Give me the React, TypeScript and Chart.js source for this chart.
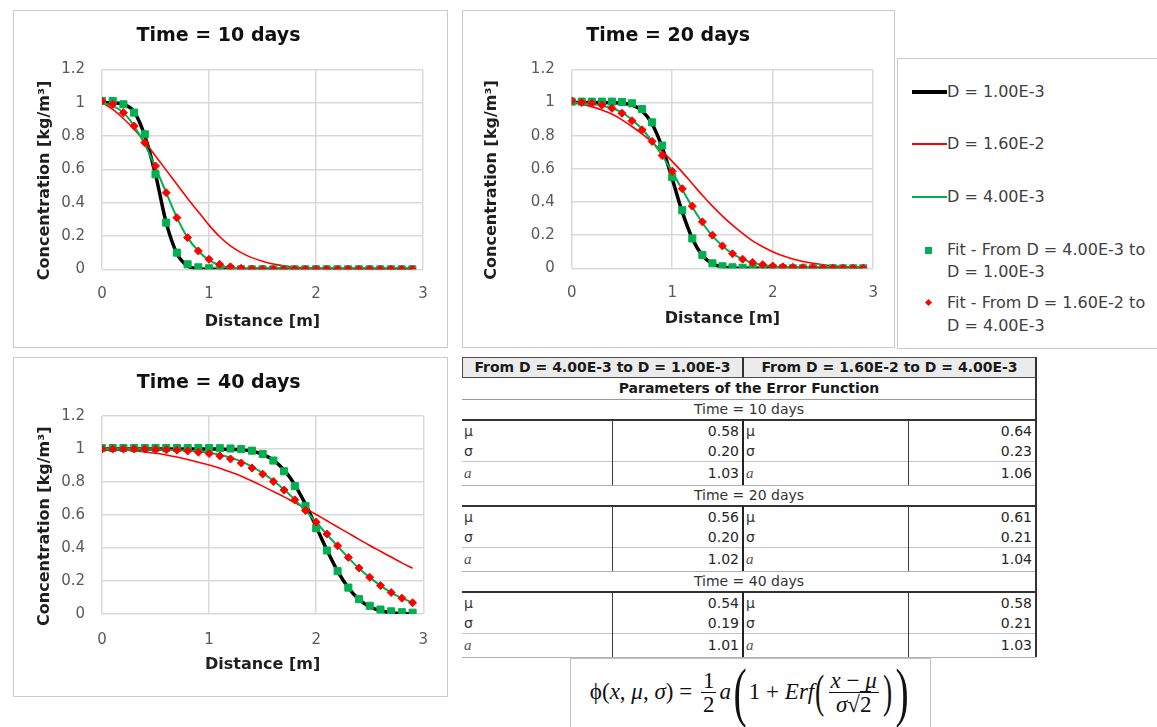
import React, { useEffect, useRef } from 'react';
import { Chart, registerables } from 'chart.js';

Chart.register(...registerables);

const FONT = '"DejaVu Sans", Verdana, sans-serif';
const SERIF = '"Liberation Serif", "DejaVu Serif", serif';

// ---------- data ----------
const X_DIST = [0, 0.1, 0.2, 0.3, 0.4, 0.5, 0.6, 0.7, 0.8, 0.9, 1.0, 1.1, 1.2, 1.3, 1.4, 1.5, 1.6, 1.7, 1.8, 1.9, 2.0, 2.1, 2.2, 2.3, 2.4, 2.5, 2.6, 2.7, 2.8, 2.9];
const X_TICK_LABELS = ['0', '1', '2', '3'];
const Y_TICK_LABELS = ['0', '0.2', '0.4', '0.6', '0.8', '1', '1.2'];

const SERIES_NAMES = [
  'D = 1.00E-3',
  'D = 1.60E-2',
  'D = 4.00E-3',
  'Fit - From D = 4.00E-3 to D = 1.00E-3',
  'Fit - From D = 1.60E-2 to D = 4.00E-3',
];
const CHART_TITLES = ['Time = 10 days', 'Time = 20 days', 'Time = 40 days'];

// Time = 10 days
const D1E3_T10 = [1.0, 1.0, 0.99, 0.945, 0.8, 0.57, 0.28, 0.095, 0.02, 0.003, 0, 0, 0, 0, 0, 0, 0, 0, 0, 0, 0, 0, 0, 0, 0, 0, 0, 0, 0, 0];
const D16E3_T10 = [1.0, 0.96, 0.905, 0.84, 0.765, 0.68, 0.595, 0.51, 0.425, 0.345, 0.265, 0.195, 0.14, 0.1, 0.07, 0.048, 0.032, 0.021, 0.013, 0.008, 0.005, 0.003, 0.002, 0.001, 0, 0, 0, 0, 0, 0];
const D4E3_T10 = [1.0, 0.98, 0.94, 0.86, 0.75, 0.61, 0.46, 0.31, 0.19, 0.11, 0.055, 0.025, 0.01, 0.004, 0.001, 0, 0, 0, 0, 0, 0, 0, 0, 0, 0, 0, 0, 0, 0, 0];
const FIT_A_T10 = [1.01, 1.01, 0.99, 0.94, 0.81, 0.57, 0.28, 0.1, 0.03, 0.012, 0.006, 0.003, 0.001, 0, 0, 0, 0, 0, 0, 0, 0, 0, 0, 0, 0, 0, 0, 0, 0, 0];
const FIT_B_T10 = [1.01, 0.99, 0.94, 0.86, 0.76, 0.62, 0.46, 0.31, 0.19, 0.11, 0.06, 0.03, 0.015, 0.006, 0.002, 0.001, 0, 0, 0, 0, 0, 0, 0, 0, 0, 0, 0, 0, 0, 0];

// Time = 20 days
const D1E3_T20 = [1.0, 1.0, 1.0, 1.0, 0.999, 0.996, 0.984, 0.95, 0.87, 0.73, 0.54, 0.34, 0.18, 0.078, 0.027, 0.008, 0.002, 0, 0, 0, 0, 0, 0, 0, 0, 0, 0, 0, 0, 0];
const D16E3_T20 = [1.0, 0.99, 0.975, 0.955, 0.93, 0.895, 0.855, 0.81, 0.76, 0.705, 0.645, 0.58, 0.51, 0.44, 0.375, 0.315, 0.26, 0.21, 0.165, 0.13, 0.1, 0.075, 0.056, 0.041, 0.03, 0.021, 0.015, 0.01, 0.007, 0.005];
const D4E3_T20 = [1.0, 0.997, 0.99, 0.98, 0.965, 0.94, 0.895, 0.84, 0.765, 0.68, 0.58, 0.475, 0.37, 0.275, 0.195, 0.135, 0.088, 0.055, 0.034, 0.02, 0.011, 0.006, 0.003, 0.002, 0.001, 0, 0, 0, 0, 0];
const FIT_A_T20 = [1.005, 1.005, 1.005, 1.005, 1.005, 1.003, 0.995, 0.96, 0.88, 0.74, 0.55, 0.35, 0.18, 0.08, 0.03, 0.012, 0.006, 0.003, 0.001, 0, 0, 0, 0, 0, 0, 0, 0, 0, 0, 0];
const FIT_B_T20 = [1.01, 1.0, 0.995, 0.985, 0.965, 0.935, 0.89, 0.835, 0.765, 0.68, 0.585, 0.48, 0.375, 0.28, 0.2, 0.135, 0.088, 0.055, 0.035, 0.022, 0.014, 0.009, 0.006, 0.004, 0.003, 0.002, 0.001, 0, 0, 0];

// Time = 40 days
const D1E3_T40 = [1, 1, 1, 1, 1, 1, 1, 1, 1, 1, 1, 0.999, 0.998, 0.995, 0.987, 0.968, 0.933, 0.873, 0.783, 0.665, 0.528, 0.388, 0.26, 0.159, 0.088, 0.044, 0.02, 0.008, 0.003, 0.001];
const D16E3_T40 = [1.0, 0.998, 0.995, 0.989, 0.982, 0.974, 0.964, 0.951, 0.936, 0.92, 0.903, 0.883, 0.86, 0.835, 0.806, 0.775, 0.742, 0.71, 0.675, 0.64, 0.603, 0.565, 0.527, 0.49, 0.452, 0.415, 0.38, 0.345, 0.31, 0.277];
const D4E3_T40 = [1.0, 1.0, 1.0, 1.0, 0.999, 0.998, 0.996, 0.993, 0.989, 0.984, 0.977, 0.965, 0.947, 0.925, 0.893, 0.854, 0.808, 0.754, 0.693, 0.627, 0.555, 0.482, 0.411, 0.341, 0.276, 0.222, 0.172, 0.13, 0.096, 0.069];
const FIT_A_T40 = [1.006, 1.006, 1.006, 1.006, 1.006, 1.006, 1.006, 1.006, 1.006, 1.006, 1.006, 1.005, 1.003, 1.0, 0.99, 0.97, 0.93, 0.865, 0.775, 0.655, 0.52, 0.385, 0.26, 0.16, 0.09, 0.05, 0.027, 0.016, 0.011, 0.008];
const FIT_B_T40 = [1.0, 1.0, 1.0, 1.0, 1.0, 0.998, 0.996, 0.993, 0.988, 0.981, 0.972, 0.958, 0.94, 0.915, 0.885, 0.848, 0.803, 0.751, 0.692, 0.627, 0.557, 0.485, 0.413, 0.343, 0.279, 0.222, 0.172, 0.13, 0.096, 0.068];

// Table of fitted parameters
const TABLE_HEADERS = ['From D = 4.00E-3 to D = 1.00E-3', 'From D = 1.60E-2 to D = 4.00E-3'];
const TABLE_SUBTITLE = 'Parameters of the Error Function';
const PARAM_SYMBOLS = ['μ', 'σ', 'a'];
const FIT_A_PARAMS = [
  [0.58, 0.2, 1.03],
  [0.56, 0.2, 1.02],
  [0.54, 0.19, 1.01],
];
const FIT_B_PARAMS = [
  [0.64, 0.23, 1.06],
  [0.61, 0.21, 1.04],
  [0.58, 0.21, 1.03],
];

// ---------- styles ----------
const BLACK = '#000000';
const RED = '#ff0000';
const GREEN = '#00b050';
const GRID = '#d9d9d9';
const NBSP4 = '\u00a0\u00a0\u00a0\u00a0';

type Geo = {
  left: number; top: number; w: number; h: number;
  plotLeft: number; rightPad: number; tTop: number; tBottom: number;
  xHeight: number; xTickPad: number; xTitlePB: number; yTitlePT: number;
};

const GEOS: Geo[] = [
  { left: 13, top: 10, w: 435, h: 338, plotLeft: 88, rightPad: 24, tTop: 13.6, tBottom: 21.9, xHeight: 77.7, xTickPad: 15.5, xTitlePB: 15.4, yTitlePT: 21.4 },
  { left: 462, top: 10, w: 433, h: 338, plotLeft: 108.7, rightPad: 20.7, tTop: 14.1, tBottom: 21.4, xHeight: 78.7, xTickPad: 16, xTitlePB: 18.1, yTitlePT: 19.1 },
  { left: 13, top: 357, w: 435, h: 340, plotLeft: 88, rightPad: 23.7, tTop: 14.1, tBottom: 21.1, xHeight: 82, xTickPad: 17, xTitlePB: 21.4, yTitlePT: 21.4 },
];

type Series = { black: number[]; red: number[]; green: number[]; fitA: number[]; fitB: number[] };

const SERIES: Series[] = [
  { black: D1E3_T10, red: D16E3_T10, green: D4E3_T10, fitA: FIT_A_T10, fitB: FIT_B_T10 },
  { black: D1E3_T20, red: D16E3_T20, green: D4E3_T20, fitA: FIT_A_T20, fitB: FIT_B_T20 },
  { black: D1E3_T40, red: D16E3_T40, green: D4E3_T40, fitA: FIT_A_T40, fitB: FIT_B_T40 },
];

function ConcChart({ title, series, geo }: { title: string; series: Series; geo: Geo }) {
  const ref = useRef<HTMLCanvasElement>(null);
  useEffect(() => {
    const pts = (arr: number[]) => X_DIST.map((x, i) => ({ x, y: arr[i] }));
    const chart = new Chart(ref.current as HTMLCanvasElement, {
      type: 'line',
      data: {
        datasets: [
          { label: SERIES_NAMES[4], data: pts(series.fitB), showLine: false, pointStyle: 'rectRot', pointRadius: 4, pointBackgroundColor: RED, pointBorderColor: RED, pointBorderWidth: 1, borderColor: RED, backgroundColor: RED, order: 1 } as any,
          { label: SERIES_NAMES[3], data: pts(series.fitA), showLine: false, pointStyle: 'rect', pointRadius: 5, pointBackgroundColor: GREEN, pointBorderColor: GREEN, pointBorderWidth: 1, borderColor: GREEN, backgroundColor: GREEN, order: 2 } as any,
          { label: SERIES_NAMES[2], data: pts(series.green), borderColor: GREEN, borderWidth: 2, pointRadius: 0, cubicInterpolationMode: 'monotone', order: 3 } as any,
          { label: SERIES_NAMES[1], data: pts(series.red), borderColor: RED, borderWidth: 1.6, pointRadius: 0, cubicInterpolationMode: 'monotone', order: 4 } as any,
          { label: SERIES_NAMES[0], data: pts(series.black), borderColor: BLACK, borderWidth: 3.5, pointRadius: 0, cubicInterpolationMode: 'monotone', order: 5 } as any,
        ],
      },
      options: {
        responsive: true,
        maintainAspectRatio: false,
        animation: false,
        events: [],
        layout: { padding: { left: 0, right: geo.rightPad, top: 0, bottom: 0 } },
        plugins: {
          legend: { display: false },
          tooltip: { enabled: false },
          title: {
            display: true,
            text: title,
            color: '#111111',
            font: { family: FONT, size: 19, weight: 'bold' },
            padding: { top: geo.tTop, bottom: geo.tBottom },
          },
        },
        scales: {
          x: {
            type: 'linear',
            min: 0,
            max: 3,
            ticks: {
              stepSize: 1,
              padding: geo.xTickPad,
              color: '#595959',
              font: { family: FONT, size: 15 },
              callback: (v: any) => X_TICK_LABELS[Math.round(Number(v))],
            },
            grid: { color: GRID, lineWidth: 1.5, drawTicks: false },
            border: { display: false },
            title: {
              display: true,
              text: 'Distance [m]',
              color: '#1f1f1f',
              font: { family: FONT, size: 16, weight: 'bold' },
              padding: { top: 0, bottom: geo.xTitlePB },
            },
            afterFit: (s: any) => { s.height = geo.xHeight; },
          },
          y: {
            type: 'linear',
            min: 0,
            max: 1.2,
            ticks: {
              stepSize: 0.2,
              padding: 17,
              color: '#595959',
              font: { family: FONT, size: 15 },
              callback: (v: any) => Y_TICK_LABELS[Math.round(Number(v) / 0.2)],
            },
            grid: { color: GRID, lineWidth: 1.5, drawTicks: false },
            border: { display: false },
            title: {
              display: true,
              text: 'Concentration [kg/m³]' + NBSP4,
              color: '#1f1f1f',
              font: { family: FONT, size: 16, weight: 'bold' },
              padding: { top: geo.yTitlePT, bottom: 0 },
            },
            afterFit: (s: any) => { s.width = geo.plotLeft; },
          },
        },
      } as any,
    });
    return () => chart.destroy();
  }, []);
  return (
    <div style={{ position: 'absolute', left: geo.left, top: geo.top, width: geo.w, height: geo.h, border: '1px solid #cbcbcb', boxSizing: 'border-box', background: '#fff' }}>
      <div style={{ position: 'relative', width: '100%', height: '100%' }}>
        <canvas ref={ref} />
      </div>
    </div>
  );
}

function Legend() {
  const text: React.CSSProperties = { position: 'absolute', left: 49, fontFamily: FONT, fontSize: 16, lineHeight: '22px', color: '#404040', whiteSpace: 'nowrap' };
  return (
    <div style={{ position: 'absolute', left: 897, top: 58, width: 280, height: 291, borderLeft: '1px solid #cbcbcb', borderTop: '1px solid #cbcbcb', borderBottom: '1px solid #cbcbcb', boxSizing: 'border-box', background: '#fff' }}>
      <div style={{ position: 'absolute', left: 14, top: 31, width: 35, height: 3.5, background: BLACK }} />
      <div style={{ ...text, top: 22 }}>{SERIES_NAMES[0]}</div>
      <div style={{ position: 'absolute', left: 14, top: 84.2, width: 35, height: 1.6, background: RED }} />
      <div style={{ ...text, top: 74 }}>{SERIES_NAMES[1]}</div>
      <div style={{ position: 'absolute', left: 14, top: 137, width: 35, height: 2, background: GREEN }} />
      <div style={{ ...text, top: 127 }}>{SERIES_NAMES[2]}</div>
      <div style={{ position: 'absolute', left: 27, top: 187.5, width: 7, height: 7, background: GREEN }} />
      <div style={{ ...text, top: 180 }}>Fit - From D = 4.00E-3 to</div>
      <div style={{ ...text, top: 202 }}>D = 1.00E-3</div>
      <div style={{ position: 'absolute', left: 28, top: 241, width: 5, height: 5, background: RED, transform: 'rotate(45deg)' }} />
      <div style={{ ...text, top: 233 }}>Fit - From D = 1.60E-2 to</div>
      <div style={{ ...text, top: 256 }}>D = 4.00E-3</div>
    </div>
  );
}

function ParamTable() {
  const COLS = [462, 612, 743, 908, 1036];
  const L = COLS[0];
  const R = COLS[4];
  const els: React.ReactNode[] = [];
  const base: React.CSSProperties = { position: 'absolute', fontFamily: FONT, fontSize: 14, color: '#262626', whiteSpace: 'nowrap' };
  const hline = (y: number, color: string, w: number, key: string) =>
    els.push(<div key={key} style={{ position: 'absolute', left: L, top: y - w / 2, width: R - L, height: w, background: color }} />);
  const vline = (x: number, y1: number, y2: number, color: string, w: number, key: string) =>
    els.push(<div key={key} style={{ position: 'absolute', left: x - w / 2, top: y1, width: w, height: y2 - y1, background: color }} />);

  // header row
  els.push(<div key="hbg" style={{ position: 'absolute', left: L, top: 357, width: R - L, height: 20, background: '#ebebeb' }} />);
  TABLE_HEADERS.forEach((t, i) => {
    const x1 = i === 0 ? COLS[0] : COLS[2];
    const x2 = i === 0 ? COLS[2] : COLS[4];
    els.push(<div key={'h' + i} style={{ ...base, left: x1, width: x2 - x1, top: 357, height: 20, lineHeight: '20px', textAlign: 'center', fontWeight: 'bold', color: '#1a1a1a' }}>{t}</div>);
  });
  hline(357, '#4d4d4d', 1, 'ht');
  hline(377, '#4d4d4d', 1, 'hb');
  vline(L, 357, 377, '#4d4d4d', 1, 'hl');
  vline(COLS[2], 357, 377, '#333', 2, 'hc');
  // subtitle
  els.push(<div key="sub" style={{ ...base, left: L, width: R - L, top: 378, height: 21, lineHeight: '21px', textAlign: 'center', fontWeight: 'bold', color: '#1a1a1a' }}>{TABLE_SUBTITLE}</div>);
  hline(399, '#9a9a9a', 1, 'sb');

  let y = 399;
  const H_TIME = 21;
  const H_ROWS = [22, 19, 24];
  CHART_TITLES.forEach((t, b) => {
    els.push(<div key={'t' + b} style={{ ...base, left: L, width: R - L, top: y, height: H_TIME, lineHeight: H_TIME + 'px', textAlign: 'center', color: '#333' }}>{t}</div>);
    y += H_TIME;
    hline(y, '#333', 2, 'tb' + b);
    const blockTop = y;
    PARAM_SYMBOLS.forEach((s, r) => {
      const h = H_ROWS[r];
      const symStyle: React.CSSProperties = s === 'a'
        ? { fontFamily: SERIF, fontStyle: 'italic', fontSize: 15, color: '#555' }
        : { color: '#333' };
      els.push(<div key={`sa${b}${r}`} style={{ ...base, ...symStyle, left: COLS[0] + 2, top: y, height: h, lineHeight: h + 'px' }}>{s}</div>);
      els.push(<div key={`va${b}${r}`} style={{ ...base, left: COLS[1], width: COLS[2] - COLS[1] - 4, top: y, height: h, lineHeight: h + 'px', textAlign: 'right' }}>{FIT_A_PARAMS[b][r].toFixed(2)}</div>);
      els.push(<div key={`sb${b}${r}`} style={{ ...base, ...symStyle, left: COLS[2] + 3, top: y, height: h, lineHeight: h + 'px' }}>{s}</div>);
      els.push(<div key={`vb${b}${r}`} style={{ ...base, left: COLS[3], width: COLS[4] - COLS[3] - 4, top: y, height: h, lineHeight: h + 'px', textAlign: 'right' }}>{FIT_B_PARAMS[b][r].toFixed(2)}</div>);
      y += h;
      if (r === 1) hline(y, '#c4c4c4', 1, `rl${b}${r}`);
    });
    hline(y, '#b0b0b0', 1, 'ab' + b);
    vline(COLS[1], blockTop, y, '#3a3a3a', 1, 'v1' + b);
    vline(COLS[2], blockTop, y, '#222', 2, 'v2' + b);
    vline(COLS[3], blockTop, y, '#3a3a3a', 1, 'v3' + b);
  });
  vline(R, 357, y, '#333', 2, 'right');
  return <>{els}</>;
}

function Frac({ n, d }: { n: React.ReactNode; d: React.ReactNode }) {
  return (
    <span style={{ display: 'inline-flex', flexDirection: 'column', alignItems: 'center', verticalAlign: 'middle', margin: '0 3px' }}>
      <span style={{ borderBottom: '1px solid #111', padding: '0 2px', lineHeight: '23px' }}>{n}</span>
      <span style={{ lineHeight: '23px', padding: '0 2px' }}>{d}</span>
    </span>
  );
}

function Paren({ ch, big }: { ch: string; big?: boolean }) {
  return (
    <span style={{ display: 'inline-block', fontSize: big ? 66 : 46, lineHeight: 1, transform: 'scaleX(0.6)', fontWeight: 300, margin: '0 -2px' }}>{ch}</span>
  );
}

function Formula() {
  return (
    <div style={{ position: 'absolute', left: 570, top: 658, width: 361, height: 80, border: '1px solid #c0c0c0', boxSizing: 'border-box', background: '#fff', display: 'flex', alignItems: 'center', justifyContent: 'center', fontFamily: SERIF, fontSize: 23, color: '#111', paddingBottom: 12, whiteSpace: 'nowrap' }}>
      <span>ϕ(</span><i>x</i><span>,&nbsp;</span><i>μ</i><span>,&nbsp;</span><i>σ</i><span>)&nbsp;=&nbsp;</span>
      <Frac n="1" d="2" />
      <i>a</i>
      <Paren ch="(" big />
      <span>1 + </span><i>&nbsp;Erf</i>
      <Paren ch="(" />
      <Frac n={<><i>x</i> − <i>μ</i></>} d={<><i>σ</i><span>√</span><span style={{ borderTop: '1px solid #111' }}>2</span></>} />
      <Paren ch=")" />
      <Paren ch=")" big />
    </div>
  );
}

export default function App() {
  return (
    <div style={{ position: 'absolute', left: 0, top: 0, width: 1157, height: 727, overflow: 'hidden', background: '#ffffff' }}>
      {SERIES.map((s, i) => (
        <ConcChart key={i} title={CHART_TITLES[i]} series={s} geo={GEOS[i]} />
      ))}
      <Legend />
      <ParamTable />
      <Formula />
    </div>
  );
}
